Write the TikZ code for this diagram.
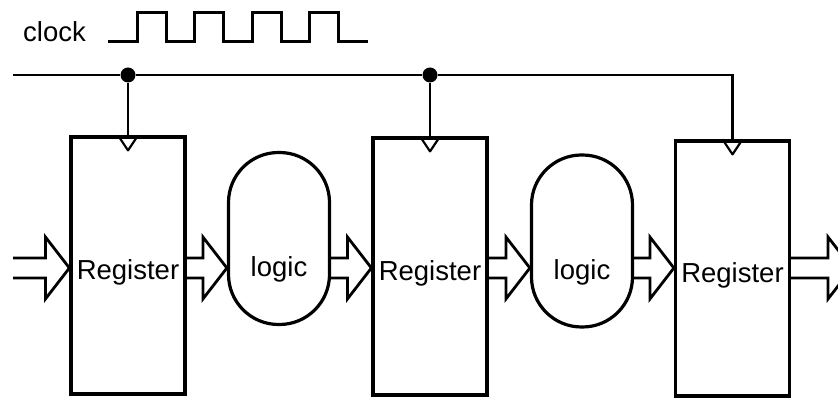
\documentclass[tikz,border=0pt]{standalone}
\usepackage{fontspec}
\setmainfont{Liberation Sans}
\usetikzlibrary{calc}

\tikzset{
    register/.style={draw, line width=3.2pt, minimum width=114pt, minimum height=257pt,
        inner sep=0pt, text height=29pt, text depth=0pt},
    logicbox/.style={draw, line width=3.2pt, rounded corners=50pt, minimum width=101pt,
        minimum height=172pt, inner sep=0pt, text height=77pt, text depth=0pt},
    wire/.style={line width=2.6pt},
    bus/.style={line width=2.8pt, line join=miter},
    joint/.style={circle, fill, inner sep=0pt, minimum size=15pt}
}

% row of the data arrows
\newcommand{\rowy}{130pt}
% hollow bus arrow from one node to the next
\newcommand{\busarrow}[2]{%
    \draw[bus] let \p1=(#1), \p2=(#2) in
        (\x1,\rowy+10pt) -- (\x2-24pt,\rowy+10pt) -- (\x2-24pt,\rowy+31pt) -- (\x2,\rowy)
        -- (\x2-24pt,\rowy-31pt) -- (\x2-24pt,\rowy-10pt) -- (\x1,\rowy-10pt);
}

\begin{document}
\begin{tikzpicture}[x=1pt, y=1pt, font=\fontsize{27.5}{30}\selectfont]
    \useasboundingbox (0,0) rectangle (838,398);
    \clip (0,0) rectangle (838,398);

    % Clock waveform
    \node[anchor=base west, inner sep=0pt] (clk) at (23,356) {clock};
    \draw[wire, line width=3pt] (108,356)
        foreach \x in {137,194,252,309} { -- (\x,356) -- (\x,385) -- (\x+29,385) -- (\x+29,356) }
        -- (368,356);

    % Registers and logic
    \node[register] (r1) at (128,132.5) {Register};
    \node[logicbox] (l1) at (279,159.5) {logic};
    \node[register] (r2) at (430,131.5) {Register};
    \node[logicbox] (l2) at (582,157) {logic};
    \node[register, minimum height=255pt] (r3) at (732.5,129.5) {Register};

    % Clock inputs (triangles)
    \foreach \r in {r1,r2,r3} {
        \draw[line width=2.2pt, line join=round] ($(\r.north)+(-10,0)$) -- ++(10,-15) -- ++(10,15);
    }

    % Clock line
    \coordinate (clkin) at (13,323);
    \node[joint] (d1) at (r1.north |- clkin) {};
    \node[joint] (d2) at (r2.north |- clkin) {};
    \draw[wire] (clkin) -- (d1) -- (d2) -| (r3.north);
    \draw[wire] (d1) -- (r1.north);
    \draw[wire] (d2) -- (r2.north);

    % Data path
    \coordinate (din) at (13,\rowy);
    \coordinate (dout) at (852,\rowy);
    \busarrow{din}{r1.west}
    \busarrow{r1.east}{l1.west}
    \busarrow{l1.east}{r2.west}
    \busarrow{r2.east}{l2.west}
    \busarrow{l2.east}{r3.west}
    \busarrow{r3.east}{dout}
\end{tikzpicture}
\end{document}
